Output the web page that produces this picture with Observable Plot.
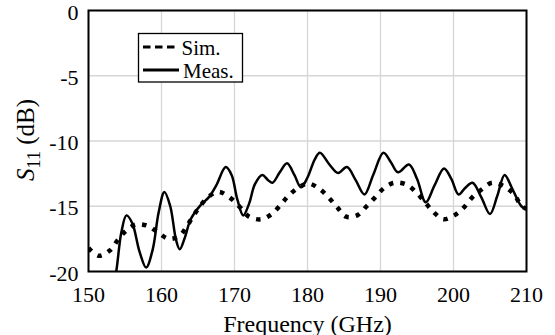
<!DOCTYPE html>
<html>
<head>
<meta charset="utf-8">
<script src="https://cdn.jsdelivr.net/npm/d3@7"></script>
<script src="https://cdn.jsdelivr.net/npm/@observablehq/plot@0.6"></script>
<style>
  html, body { margin: 0; padding: 0; background: #fff; }
  #chart { width: 555px; height: 335px; }
</style>
</head>
<body>
<div id="chart"></div>
<script>
// Measured S11 (solid line)
const measFreq = [153.4,153.8,154.5,155.2,156.0,157.0,157.9,158.8,159.6,160.4,161.2,162.0,162.5,163.2,164.0,165.3,166.5,167.5,168.8,169.6,170.4,171.2,172.0,172.8,173.8,174.6,175.2,176.2,177.2,178.2,179.1,180.0,181.0,181.7,183.0,184.2,185.4,186.6,187.8,189.0,190.4,191.4,192.4,193.9,195.0,196.2,197.4,198.7,199.7,200.7,201.6,202.6,203.8,205.0,206.0,207.0,208.0,209.3,210.0];
const measDb   = [-21.0,-20.0,-17.0,-15.7,-16.3,-18.5,-19.7,-18.3,-15.5,-13.9,-15.0,-17.6,-18.3,-17.4,-16.0,-14.95,-14.3,-13.4,-12.0,-12.6,-14.5,-15.7,-14.8,-13.3,-12.6,-13.0,-13.2,-12.4,-11.7,-12.6,-13.55,-12.8,-11.4,-10.9,-11.8,-12.45,-12.0,-13.0,-14.1,-12.6,-10.9,-11.6,-12.4,-11.8,-12.9,-14.7,-13.4,-12.1,-12.9,-14.1,-13.6,-13.2,-14.3,-15.6,-14.2,-12.6,-13.6,-15.0,-15.2];
// Simulated S11 (dotted line)
const simFreq = [150,151.4,152.9,154,155.1,156.5,158.1,159.5,161,162.5,163.5,164.4,165.4,166.6,167.9,169.5,170.8,172,173.6,175.1,176.3,177.4,178.8,180.1,181.7,183,184.1,185.3,186.8,188.1,189.3,190.5,191.9,193.6,195,196.1,197.2,198.6,200.1,201.4,202.6,203.9,205.3,207,208.3,209.3,210];
const simDb   = [-18.2,-18.8,-18.4,-17.6,-16.9,-16.4,-16.5,-17.0,-17.5,-17.25,-16.5,-15.7,-14.9,-14.2,-13.9,-14.4,-15.1,-15.8,-16.0,-15.6,-14.9,-14.2,-13.55,-13.25,-13.7,-14.4,-15.1,-15.8,-15.7,-15.0,-14.3,-13.6,-13.2,-13.35,-14.0,-14.7,-15.4,-16.0,-15.7,-15.1,-14.3,-13.7,-13.2,-13.5,-14.1,-14.95,-15.2];
const xTicks = [150,160,170,180,190,200,210];
const yTicks = [0,-5,-10,-15,-20];
const legendLabels = ["Sim.", "Meas."];

const meas = measFreq.map((f, i) => ({f, v: measDb[i]}));
const sim = simFreq.map((f, i) => ({f, v: simDb[i]}));

const font = "Liberation Serif";

const chart = Plot.plot({
  width: 555,
  height: 335,
  marginLeft: 88,
  marginRight: 29,
  marginTop: 10,
  marginBottom: 64,
  style: {fontFamily: font, fontSize: "22px", color: "#000", background: "#fff"},
  x: {domain: [150, 210]},
  y: {domain: [-20, 0]},
  marks: [
    Plot.gridX(xTicks, {stroke: "#d6d6d6", strokeOpacity: 1, strokeWidth: 1.3}),
    Plot.gridY(yTicks, {stroke: "#d6d6d6", strokeOpacity: 1, strokeWidth: 1.3}),
    Plot.line(sim, {x: "f", y: "v", curve: "catmull-rom", stroke: "#000", strokeWidth: 4.5, strokeDasharray: "4.5 7", strokeLinecap: "butt", clip: true}),
    Plot.line(meas, {x: "f", y: "v", curve: "catmull-rom", stroke: "#000", strokeWidth: 2.5, clip: true}),
    Plot.axisX(xTicks, {tickSize: 0, tickPadding: 15, tickFormat: d => String(d), label: null, fontSize: 22, fontFamily: font}),
    Plot.axisX([], {tickSize: 0, label: "Frequency (GHz)", labelAnchor: "center", labelArrow: "none", labelOffset: 60, fontSize: 24, fontFamily: font}),
    Plot.axisY(yTicks, {tickSize: 0, tickPadding: 10, tickFormat: d => String(d), label: null, fontSize: 22, dy: 2, fontFamily: font}),
    Plot.frame({stroke: "#000", strokeWidth: 2})
  ]
});

document.getElementById("chart").appendChild(chart);

const svg = d3.select(chart);
// y-axis label with italic S and subscript
const yl = svg.append("text")
  .attr("transform", "translate(34,140) rotate(-90)")
  .attr("text-anchor", "middle")
  .attr("font-family", font)
  .attr("font-size", 25)
  .attr("fill", "#000");
yl.append("tspan").attr("font-style", "italic").text("S");
yl.append("tspan").attr("font-size", 18).attr("dy", 6).text("11");
yl.append("tspan").attr("dy", -6).text(" (dB)");

// legend
const lg = svg.append("g").attr("text-anchor", "start");
lg.append("rect").attr("x", 138.5).attr("y", 33.5).attr("width", 104).attr("height", 48.5)
  .attr("fill", "#fff").attr("stroke", "#000").attr("stroke-width", 1.3);
lg.append("line").attr("x1", 143).attr("x2", 176).attr("y1", 47).attr("y2", 47)
  .attr("stroke", "#000").attr("stroke-width", 3.2).attr("stroke-dasharray", "7.5 4.5");
lg.append("line").attr("x1", 143).attr("x2", 179).attr("y1", 70).attr("y2", 70)
  .attr("stroke", "#000").attr("stroke-width", 3.2);
lg.append("text").attr("x", 181.5).attr("y", 55).attr("text-anchor", "start").attr("font-family", font).attr("font-size", 21).attr("fill", "#000").text(legendLabels[0]);
lg.append("text").attr("x", 183).attr("y", 77.5).attr("text-anchor", "start").attr("font-family", font).attr("font-size", 21).attr("fill", "#000").text(legendLabels[1]);
</script>
</body>
</html>
